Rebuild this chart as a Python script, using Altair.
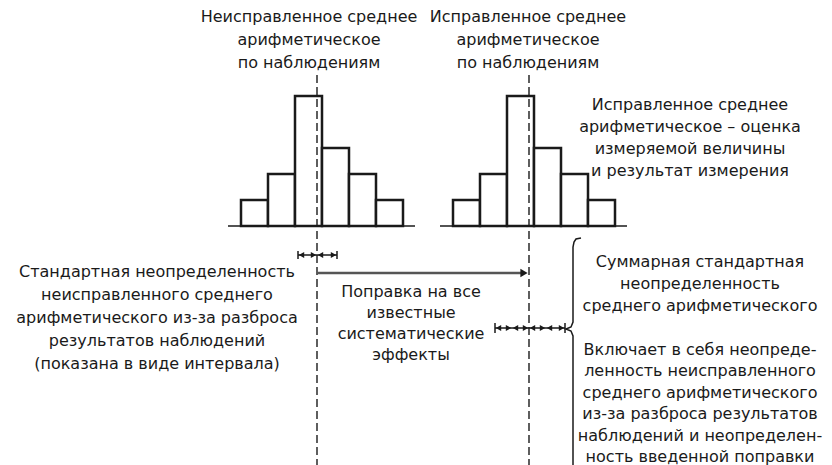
import altair as alt
import pandas as pd

# ---------------- data (diagram coordinates) ----------------
counts = [1, 2, 5, 3, 2, 1]                       # histogram heights (observations per bin)
left_edges = [241, 268, 295, 322, 349, 376, 403]  # bin edges, uncorrected histogram
correction = 212                                  # shift of corrected histogram
baseline_y = 226
count_unit = 26
mean_uncorr = 317
mean_corr = mean_uncorr + correction
hist_base_ext = [228, 415]

# small interval (std. uncertainty of uncorrected mean)
small_int = [298, 317, 337]
small_int_y = 255
# combined interval
comb_int = [495, 512, 529, 546, 565]
comb_int_y = 328
# correction arrow
corr_arrow_y = 273

# brace
brace_x = [581, 576, 574, 573, 573, 571, 566, 571, 573, 573]
brace_y = [238, 239, 242, 247, 322, 327, 329, 331, 336, 470]

label_top_left = ["Неисправленное среднее", "арифметическое", "по наблюдениям"]
label_top_right = ["Исправленное среднее", "арифметическое", "по наблюдениям"]
label_est = ["Исправленное среднее", "арифметическое – оценка", "измеряемой величины", "и результат измерения"]
label_left = ["Стандартная неопределенность", "неисправленного среднего",
              "арифметического из-за разброса", "результатов наблюдений",
              "(показана в виде интервала)"]
label_corr = ["Поправка на все", "известные", "систематические", "эффекты"]
label_comb = ["Суммарная стандартная", "неопределенность", "среднего арифметического"]
label_incl = ["Включает в себя неопреде-", "ленность неисправленного", "среднего арифметического",
              "из-за разброса результатов", "наблюдений и неопределен-", "ность введенной поправки"]

# ---------------- build tables ----------------
W, H = 816, 457
XS = alt.Scale(domain=[8, 8 + W], nice=False, zero=False)
YS = alt.Scale(domain=[8, 8 + H], nice=False, zero=False, reverse=True)
INK = "#1a1a1a"


def X(f):
    return alt.X(f, type="quantitative", scale=XS, axis=None)


def Y(f):
    return alt.Y(f, type="quantitative", scale=YS, axis=None)


bars = []
for shift in (0, correction):
    for i, c in enumerate(counts):
        bars.append(dict(x=left_edges[i] + shift, x2=left_edges[i + 1] + shift,
                         y=baseline_y - c * count_unit, y2=baseline_y))
bars = pd.DataFrame(bars)

bases = pd.DataFrame([dict(x=hist_base_ext[0] + s, x2=hist_base_ext[1] + s, y=baseline_y)
                      for s in (0, correction)])

dash = pd.DataFrame([dict(x=mean_uncorr, y=75, y2=465), dict(x=mean_corr, y=75, y2=465)])

segs, ticks, heads_l, heads_r = [], [], [], []
for pts, yy, th in ((small_int, small_int_y, 4), (comb_int, comb_int_y, 5)):
    segs.append(dict(x=pts[0], x2=pts[-1], y=yy))
    ticks.append(dict(x=pts[0], y=yy - th, y2=yy + th))
    ticks.append(dict(x=pts[-1], y=yy - th, y2=yy + th))
    for a, b in zip(pts[:-1], pts[1:]):
        heads_l.append(dict(x=a + 3.5, y=yy))
        heads_r.append(dict(x=b - 3.5, y=yy))
segs = pd.DataFrame(segs)
ticks = pd.DataFrame(ticks)
heads_l = pd.DataFrame(heads_l)
heads_r = pd.DataFrame(heads_r)

arrow = pd.DataFrame([dict(x=mean_uncorr, x2=mean_corr - 6, y=corr_arrow_y)])
arrow_head = pd.DataFrame([dict(x=mean_corr - 5, y=corr_arrow_y)])

brace = pd.DataFrame(dict(x=brace_x, y=brace_y, o=list(range(len(brace_x)))))


def block(lines, cx, y0, step):
    return [dict(x=cx, y=y0 + i * step, t=t) for i, t in enumerate(lines)]


texts = pd.DataFrame(
    block(label_top_left, 309, 17, 23)
    + block(label_top_right, 528, 17, 23)
    + block(label_est, 690, 105, 22)
    + block(label_left, 157, 272, 23)
    + block(label_corr, 411, 292, 21)
    + block(label_comb, 700, 262, 22)
    + block(label_incl, 700, 350, 21.4)
)

# ---------------- layers ----------------
l_bars = alt.Chart(bars).mark_rect(fill="white", stroke=INK, strokeWidth=2.5).encode(
    x=X("x"), x2="x2", y=Y("y"), y2="y2")
l_base = alt.Chart(bases).mark_rule(color=INK, strokeWidth=1.5).encode(x=X("x"), x2="x2", y=Y("y"))
l_dash = alt.Chart(dash).mark_rule(color=INK, strokeWidth=1.4, strokeDash=[8, 4]).encode(
    x=X("x"), y=Y("y"), y2="y2")
l_segs = alt.Chart(segs).mark_rule(color=INK, strokeWidth=1.3).encode(x=X("x"), x2="x2", y=Y("y"))
l_ticks = alt.Chart(ticks).mark_rule(color=INK, strokeWidth=1.5).encode(x=X("x"), y=Y("y"), y2="y2")
l_hl = alt.Chart(heads_l).mark_point(filled=True, color=INK, size=38, opacity=1,
                                     shape="triangle-left").encode(x=X("x"), y=Y("y"))
l_hr = alt.Chart(heads_r).mark_point(filled=True, color=INK, size=38, opacity=1,
                                     shape="triangle-right").encode(x=X("x"), y=Y("y"))
l_arrow = alt.Chart(arrow).mark_rule(color="#555555", strokeWidth=2.5).encode(x=X("x"), x2="x2", y=Y("y"))
l_ahead = alt.Chart(arrow_head).mark_point(filled=True, color=INK, size=70, shape="triangle-right",
                                           opacity=1).encode(x=X("x"), y=Y("y"))
l_brace = alt.Chart(brace).mark_line(color=INK, strokeWidth=1.5).encode(
    x=X("x"), y=Y("y"), order="o:Q")
l_text = alt.Chart(texts).mark_text(font="DejaVu Sans", fontSize=16, align="center",
                                    baseline="middle", color=INK).encode(
    x=X("x"), y=Y("y"), text="t:N")

chart = alt.layer(l_bars, l_base, l_dash, l_segs, l_ticks, l_hl, l_hr, l_arrow, l_ahead, l_brace, l_text
                  ).properties(
    width=W, height=H, padding=0, autosize=alt.AutoSizeParams(type="none"), background="white"
).configure_view(stroke=None)

chart.save("out.html", embed_options={"renderer": "svg", "actions": False})
